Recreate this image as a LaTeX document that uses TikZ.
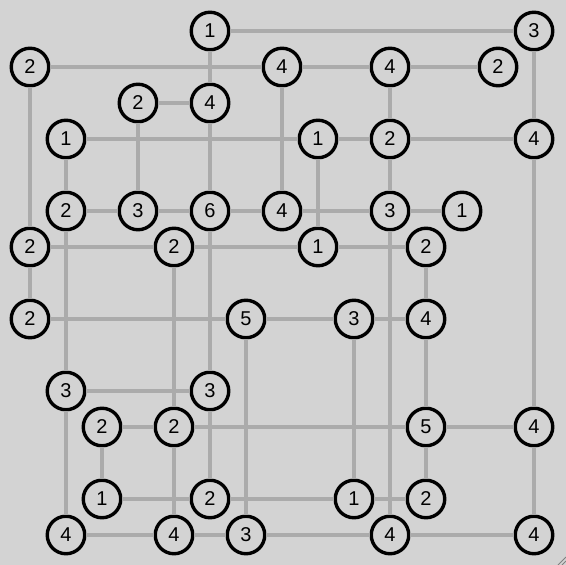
\documentclass[tikz,border=0pt]{standalone}
\usepackage{fontspec}
\setmainfont{Liberation Sans}
\definecolor{bg}{HTML}{D3D3D3}
\definecolor{bridge}{HTML}{ABABAB}
\definecolor{grip}{HTML}{808080}
\begin{document}
\begin{tikzpicture}[x=1pt,y=-1pt,
  isl/.style={circle,draw=black,line width=3.4pt,fill=bg,minimum size=37.5pt,inner sep=0pt,font=\fontsize{20}{20}\selectfont},
  br/.style={draw=bridge,line width=4pt},
  gripline/.style={draw=grip,line width=0.8pt}]
\fill[bg] (0,0) rectangle (566,565);
\useasboundingbox (0,0) rectangle (566,565);
\foreach \i/\j/\n in {5/0/1, 14/0/3,
  0/1/2, 7/1/4, 10/1/4, 13/1/2,
  3/2/2, 5/2/4,
  1/3/1, 8/3/1, 10/3/2, 14/3/4,
  1/5/2, 3/5/3, 5/5/6, 7/5/4, 10/5/3, 12/5/1,
  0/6/2, 4/6/2, 8/6/1, 11/6/2,
  0/8/2, 6/8/5, 9/8/3, 11/8/4,
  1/10/3, 5/10/3,
  2/11/2, 4/11/2, 11/11/5, 14/11/4,
  2/13/1, 5/13/2, 9/13/1, 11/13/2,
  1/14/4, 4/14/4, 6/14/3, 10/14/4, 14/14/4}
  \node[isl] (n\i-\j) at ({30+36*\i},{31+36*\j}) {\n};
\foreach \a/\b in {5-0/14-0, 5-0/5-2, 0-1/7-1, 7-1/10-1, 10-1/13-1,
  0-1/0-6, 0-6/0-8, 14-0/14-3, 14-3/14-11, 14-11/14-14,
  7-1/7-5, 10-1/10-3, 10-3/10-5, 10-5/10-14,
  3-2/5-2, 5-2/5-5, 1-3/8-3, 8-3/10-3, 10-3/14-3,
  1-3/1-5, 1-5/1-10, 1-10/1-14, 3-2/3-5,
  1-5/3-5, 3-5/5-5, 5-5/7-5, 7-5/10-5, 10-5/12-5,
  8-3/8-6, 5-5/5-10, 5-10/5-13,
  0-6/4-6, 4-6/8-6, 8-6/11-6, 4-6/4-11, 4-11/4-14,
  11-6/11-8, 11-8/11-11, 11-11/11-13,
  0-8/6-8, 6-8/9-8, 9-8/11-8, 6-8/6-14, 9-8/9-13,
  1-10/5-10, 2-11/4-11, 4-11/11-11, 11-11/14-11,
  2-11/2-13, 2-13/5-13, 5-13/9-13, 9-13/11-13,
  1-14/4-14, 4-14/6-14, 6-14/10-14, 10-14/14-14}
  \draw[br] (n\a) -- (n\b);
\coordinate (g1) at (558,565);
\coordinate (g2) at (566,557);
\coordinate (g3) at (562,565);
\coordinate (g4) at (566,561);
\draw[gripline] (g1) -- (g2);
\draw[gripline] (g3) -- (g4);
\end{tikzpicture}
\end{document}
